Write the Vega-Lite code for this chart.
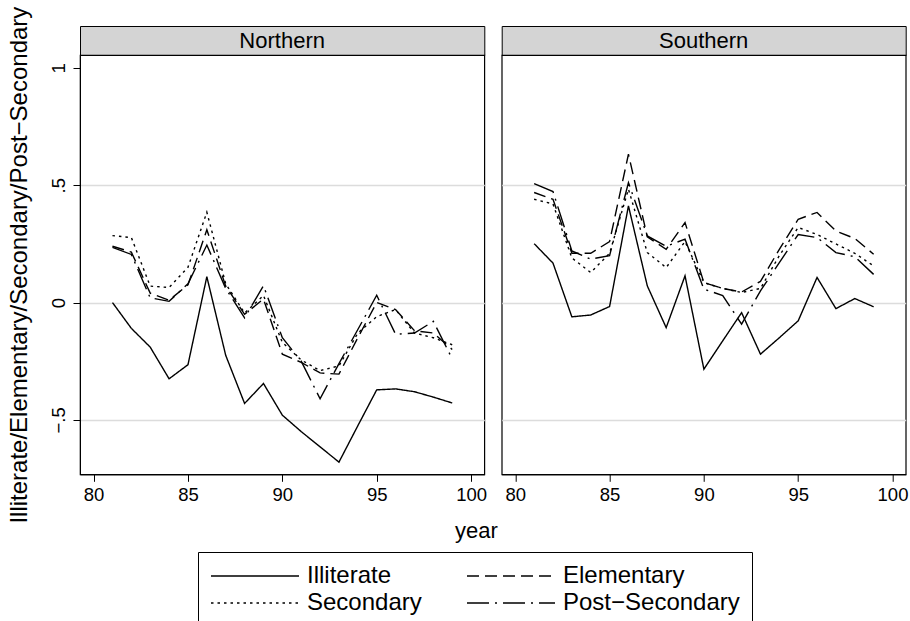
{
  "$schema": "https://vega.github.io/schema/vega-lite/v6.json",
  "padding": {"left": 7, "top": 5, "right": 0, "bottom": 0},
  "background": "white",
  "config": {
    "font": "Liberation Sans",
    "axis": {
      "domainColor": "black", "domainWidth": 1, "tickColor": "black", "tickWidth": 1,
      "labelColor": "black", "titleColor": "black",
      "labelFont": "Liberation Sans", "titleFont": "Liberation Sans",
      "labelFontSize": 18.5, "titleFontSize": 24, "titleFontWeight": "normal",
      "tickSize": 7, "gridColor": "#dcdcdc", "gridWidth": 1.5
    },
    "axisX": {"grid": false, "labelPadding": 4},
    "axisY": {
      "grid": true, "labelAngle": -90, "labelAlign": "center", "labelBaseline": "alphabetic",
      "labelPadding": 9,
      "gridOpacity": {"condition": {"test": "datum.value === 1", "value": 0}, "value": 1}
    },
    "legend": {
      "orient": "none", "legendX": 118, "legendY": 526, "columns": 2, "direction": "horizontal",
      "symbolType": "M-1,0H7", "symbolSize": 484, "symbolStrokeWidth": 1.5,
      "symbolStrokeColor": "black", "symbolFillColor": "transparent",
      "labelFont": "Liberation Sans", "labelFontSize": 24, "labelColor": "black",
      "labelOffset": 73, "columnPadding": 42, "rowPadding": 3, "padding": 12,
      "strokeColor": "black", "fillColor": "white", "labelLimit": 0, "titleLimit": 0
    }
  },
  "datasets": {
    "hn": [{"region": "Northern"}],
    "hs": [{"region": "Southern"}],
    "d": [
      {"region":"Northern","edu":"Illiterate","year":81,"value":0.0},
      {"region":"Northern","edu":"Illiterate","year":82,"value":-0.11},
      {"region":"Northern","edu":"Illiterate","year":83,"value":-0.19},
      {"region":"Northern","edu":"Illiterate","year":84,"value":-0.325},
      {"region":"Northern","edu":"Illiterate","year":85,"value":-0.265},
      {"region":"Northern","edu":"Illiterate","year":86,"value":0.11},
      {"region":"Northern","edu":"Illiterate","year":87,"value":-0.225},
      {"region":"Northern","edu":"Illiterate","year":88,"value":-0.43},
      {"region":"Northern","edu":"Illiterate","year":89,"value":-0.345},
      {"region":"Northern","edu":"Illiterate","year":90,"value":-0.48},
      {"region":"Northern","edu":"Illiterate","year":91,"value":-0.55},
      {"region":"Northern","edu":"Illiterate","year":92,"value":-0.615},
      {"region":"Northern","edu":"Illiterate","year":93,"value":-0.68},
      {"region":"Northern","edu":"Illiterate","year":94,"value":-0.525},
      {"region":"Northern","edu":"Illiterate","year":95,"value":-0.372},
      {"region":"Northern","edu":"Illiterate","year":96,"value":-0.368},
      {"region":"Northern","edu":"Illiterate","year":97,"value":-0.38},
      {"region":"Northern","edu":"Illiterate","year":98,"value":-0.403},
      {"region":"Northern","edu":"Illiterate","year":99,"value":-0.428},
      {"region":"Northern","edu":"Elementary","year":81,"value":0.24},
      {"region":"Northern","edu":"Elementary","year":82,"value":0.215},
      {"region":"Northern","edu":"Elementary","year":83,"value":0.04},
      {"region":"Northern","edu":"Elementary","year":84,"value":0.01},
      {"region":"Northern","edu":"Elementary","year":85,"value":0.075},
      {"region":"Northern","edu":"Elementary","year":86,"value":0.31},
      {"region":"Northern","edu":"Elementary","year":87,"value":0.07},
      {"region":"Northern","edu":"Elementary","year":88,"value":-0.05},
      {"region":"Northern","edu":"Elementary","year":89,"value":0.015},
      {"region":"Northern","edu":"Elementary","year":90,"value":-0.22},
      {"region":"Northern","edu":"Elementary","year":91,"value":-0.255},
      {"region":"Northern","edu":"Elementary","year":92,"value":-0.3},
      {"region":"Northern","edu":"Elementary","year":93,"value":-0.305},
      {"region":"Northern","edu":"Elementary","year":94,"value":-0.15},
      {"region":"Northern","edu":"Elementary","year":95,"value":0.0},
      {"region":"Northern","edu":"Elementary","year":96,"value":-0.03},
      {"region":"Northern","edu":"Elementary","year":97,"value":-0.12},
      {"region":"Northern","edu":"Elementary","year":98,"value":-0.13},
      {"region":"Northern","edu":"Elementary","year":99,"value":-0.2},
      {"region":"Northern","edu":"Secondary","year":81,"value":0.285},
      {"region":"Northern","edu":"Secondary","year":82,"value":0.277},
      {"region":"Northern","edu":"Secondary","year":83,"value":0.07},
      {"region":"Northern","edu":"Secondary","year":84,"value":0.064},
      {"region":"Northern","edu":"Secondary","year":85,"value":0.15},
      {"region":"Northern","edu":"Secondary","year":86,"value":0.385},
      {"region":"Northern","edu":"Secondary","year":87,"value":0.08},
      {"region":"Northern","edu":"Secondary","year":88,"value":-0.045},
      {"region":"Northern","edu":"Secondary","year":89,"value":0.03},
      {"region":"Northern","edu":"Secondary","year":90,"value":-0.17},
      {"region":"Northern","edu":"Secondary","year":91,"value":-0.245},
      {"region":"Northern","edu":"Secondary","year":92,"value":-0.29},
      {"region":"Northern","edu":"Secondary","year":93,"value":-0.27},
      {"region":"Northern","edu":"Secondary","year":94,"value":-0.13},
      {"region":"Northern","edu":"Secondary","year":95,"value":-0.06},
      {"region":"Northern","edu":"Secondary","year":96,"value":-0.03},
      {"region":"Northern","edu":"Secondary","year":97,"value":-0.13},
      {"region":"Northern","edu":"Secondary","year":98,"value":-0.15},
      {"region":"Northern","edu":"Secondary","year":99,"value":-0.18},
      {"region":"Northern","edu":"Post−Secondary","year":81,"value":0.235},
      {"region":"Northern","edu":"Post−Secondary","year":82,"value":0.205},
      {"region":"Northern","edu":"Post−Secondary","year":83,"value":0.02},
      {"region":"Northern","edu":"Post−Secondary","year":84,"value":0.005},
      {"region":"Northern","edu":"Post−Secondary","year":85,"value":0.08},
      {"region":"Northern","edu":"Post−Secondary","year":86,"value":0.245},
      {"region":"Northern","edu":"Post−Secondary","year":87,"value":0.06},
      {"region":"Northern","edu":"Post−Secondary","year":88,"value":-0.065},
      {"region":"Northern","edu":"Post−Secondary","year":89,"value":0.072},
      {"region":"Northern","edu":"Post−Secondary","year":90,"value":-0.15},
      {"region":"Northern","edu":"Post−Secondary","year":91,"value":-0.25},
      {"region":"Northern","edu":"Post−Secondary","year":92,"value":-0.41},
      {"region":"Northern","edu":"Post−Secondary","year":93,"value":-0.26},
      {"region":"Northern","edu":"Post−Secondary","year":94,"value":-0.115},
      {"region":"Northern","edu":"Post−Secondary","year":95,"value":0.031},
      {"region":"Northern","edu":"Post−Secondary","year":96,"value":-0.135},
      {"region":"Northern","edu":"Post−Secondary","year":97,"value":-0.13},
      {"region":"Northern","edu":"Post−Secondary","year":98,"value":-0.08},
      {"region":"Northern","edu":"Post−Secondary","year":99,"value":-0.24},
      {"region":"Southern","edu":"Illiterate","year":81,"value":0.251},
      {"region":"Southern","edu":"Illiterate","year":82,"value":0.168},
      {"region":"Southern","edu":"Illiterate","year":83,"value":-0.061},
      {"region":"Southern","edu":"Illiterate","year":84,"value":-0.053},
      {"region":"Southern","edu":"Illiterate","year":85,"value":-0.017},
      {"region":"Southern","edu":"Illiterate","year":86,"value":0.412},
      {"region":"Southern","edu":"Illiterate","year":87,"value":0.071},
      {"region":"Southern","edu":"Illiterate","year":88,"value":-0.107},
      {"region":"Southern","edu":"Illiterate","year":89,"value":0.114},
      {"region":"Southern","edu":"Illiterate","year":90,"value":-0.284},
      {"region":"Southern","edu":"Illiterate","year":91,"value":-0.163},
      {"region":"Southern","edu":"Illiterate","year":92,"value":-0.043},
      {"region":"Southern","edu":"Illiterate","year":93,"value":-0.22},
      {"region":"Southern","edu":"Illiterate","year":94,"value":-0.15},
      {"region":"Southern","edu":"Illiterate","year":95,"value":-0.078},
      {"region":"Southern","edu":"Illiterate","year":96,"value":0.107},
      {"region":"Southern","edu":"Illiterate","year":97,"value":-0.026},
      {"region":"Southern","edu":"Illiterate","year":98,"value":0.017},
      {"region":"Southern","edu":"Illiterate","year":99,"value":-0.018},
      {"region":"Southern","edu":"Elementary","year":81,"value":0.469},
      {"region":"Southern","edu":"Elementary","year":82,"value":0.44},
      {"region":"Southern","edu":"Elementary","year":83,"value":0.21},
      {"region":"Southern","edu":"Elementary","year":84,"value":0.21},
      {"region":"Southern","edu":"Elementary","year":85,"value":0.26},
      {"region":"Southern","edu":"Elementary","year":86,"value":0.632},
      {"region":"Southern","edu":"Elementary","year":87,"value":0.28},
      {"region":"Southern","edu":"Elementary","year":88,"value":0.227},
      {"region":"Southern","edu":"Elementary","year":89,"value":0.341},
      {"region":"Southern","edu":"Elementary","year":90,"value":0.085},
      {"region":"Southern","edu":"Elementary","year":91,"value":0.06},
      {"region":"Southern","edu":"Elementary","year":92,"value":0.045},
      {"region":"Southern","edu":"Elementary","year":93,"value":0.09},
      {"region":"Southern","edu":"Elementary","year":94,"value":0.227},
      {"region":"Southern","edu":"Elementary","year":95,"value":0.355},
      {"region":"Southern","edu":"Elementary","year":96,"value":0.384},
      {"region":"Southern","edu":"Elementary","year":97,"value":0.305},
      {"region":"Southern","edu":"Elementary","year":98,"value":0.273},
      {"region":"Southern","edu":"Elementary","year":99,"value":0.206},
      {"region":"Southern","edu":"Secondary","year":81,"value":0.44},
      {"region":"Southern","edu":"Secondary","year":82,"value":0.42},
      {"region":"Southern","edu":"Secondary","year":83,"value":0.19},
      {"region":"Southern","edu":"Secondary","year":84,"value":0.128},
      {"region":"Southern","edu":"Secondary","year":85,"value":0.21},
      {"region":"Southern","edu":"Secondary","year":86,"value":0.483},
      {"region":"Southern","edu":"Secondary","year":87,"value":0.213},
      {"region":"Southern","edu":"Secondary","year":88,"value":0.149},
      {"region":"Southern","edu":"Secondary","year":89,"value":0.26},
      {"region":"Southern","edu":"Secondary","year":90,"value":0.085},
      {"region":"Southern","edu":"Secondary","year":91,"value":0.06},
      {"region":"Southern","edu":"Secondary","year":92,"value":0.043},
      {"region":"Southern","edu":"Secondary","year":93,"value":0.06},
      {"region":"Southern","edu":"Secondary","year":94,"value":0.2},
      {"region":"Southern","edu":"Secondary","year":95,"value":0.32},
      {"region":"Southern","edu":"Secondary","year":96,"value":0.29},
      {"region":"Southern","edu":"Secondary","year":97,"value":0.25},
      {"region":"Southern","edu":"Secondary","year":98,"value":0.21},
      {"region":"Southern","edu":"Secondary","year":99,"value":0.156},
      {"region":"Southern","edu":"Post−Secondary","year":81,"value":0.507},
      {"region":"Southern","edu":"Post−Secondary","year":82,"value":0.473},
      {"region":"Southern","edu":"Post−Secondary","year":83,"value":0.22},
      {"region":"Southern","edu":"Post−Secondary","year":84,"value":0.185},
      {"region":"Southern","edu":"Post−Secondary","year":85,"value":0.2},
      {"region":"Southern","edu":"Post−Secondary","year":86,"value":0.511},
      {"region":"Southern","edu":"Post−Secondary","year":87,"value":0.284},
      {"region":"Southern","edu":"Post−Secondary","year":88,"value":0.24},
      {"region":"Southern","edu":"Post−Secondary","year":89,"value":0.27},
      {"region":"Southern","edu":"Post−Secondary","year":90,"value":0.057},
      {"region":"Southern","edu":"Post−Secondary","year":91,"value":0.03},
      {"region":"Southern","edu":"Post−Secondary","year":92,"value":-0.092},
      {"region":"Southern","edu":"Post−Secondary","year":93,"value":0.05},
      {"region":"Southern","edu":"Post−Secondary","year":94,"value":0.17},
      {"region":"Southern","edu":"Post−Secondary","year":95,"value":0.29},
      {"region":"Southern","edu":"Post−Secondary","year":96,"value":0.277},
      {"region":"Southern","edu":"Post−Secondary","year":97,"value":0.213},
      {"region":"Southern","edu":"Post−Secondary","year":98,"value":0.195},
      {"region":"Southern","edu":"Post−Secondary","year":99,"value":0.12}
    ]
  },
  "columns": 2,
  "spacing": {"row": 0, "column": 16.7},
  "bounds": "flush",
  "resolve": {"scale": {"strokeDash": "shared"}, "legend": {"strokeDash": "shared"}},
  "concat": [
    {
      "data": {"name": "hn"},
      "width": 404.3, "height": 29,
      "view": {"fill": "#d4d4d4", "stroke": "black", "strokeWidth": 1},
      "mark": {"type": "text", "font": "Liberation Sans", "fontSize": 22, "color": "black"},
      "encoding": {"text": {"field": "region", "type": "nominal"}}
    },
    {
      "data": {"name": "hs"},
      "width": 404, "height": 29,
      "view": {"fill": "#d4d4d4", "stroke": "black", "strokeWidth": 1},
      "mark": {"type": "text", "font": "Liberation Sans", "fontSize": 22, "color": "black"},
      "encoding": {"text": {"field": "region", "type": "nominal"}}
    },
    {
      "data": {"name": "d"},
      "transform": [{"filter": "datum.region === 'Northern'"}],
      "width": 404.3, "height": 419.3,
      "view": {"fill": "white", "stroke": "black", "strokeWidth": 1.2},
      "mark": {"type": "line", "color": "black", "strokeWidth": 1.4},
      "encoding": {
        "x": {"field": "year", "type": "quantitative",
              "scale": {"domain": [79.28, 100.7], "nice": false, "zero": false},
              "axis": {"values": [80, 85, 90, 95, 100], "title": null}},
        "y": {"field": "value", "type": "quantitative",
              "scale": {"domain": [-0.732, 1.055], "nice": false, "zero": false},
              "axis": {"values": [-0.5, 0, 0.5, 1],
                       "labelExpr": "datum.value === 1 ? '1' : datum.value === 0.5 ? '.5' : datum.value === 0 ? '0' : '−.5'",
                       "title": "Illiterate/Elementary/Secondary/Post−Secondary",
                       "titleX": -60.2, "titleBaseline": "middle", "titleAngle": -90}},
        "strokeDash": {"field": "edu", "type": "nominal",
                       "scale": {"domain": ["Illiterate", "Elementary", "Secondary", "Post−Secondary"],
                                 "range": [[1, 0], [12, 6], [2.5, 4], [22, 6, 2, 6]]},
                       "legend": {"title": null}}
      }
    },
    {
      "data": {"name": "d"},
      "transform": [{"filter": "datum.region === 'Southern'"}],
      "width": 404, "height": 419.3,
      "view": {"fill": "white", "stroke": "black", "strokeWidth": 1.2},
      "mark": {"type": "line", "color": "black", "strokeWidth": 1.4},
      "encoding": {
        "x": {"field": "year", "type": "quantitative",
              "scale": {"domain": [79.28, 100.7], "nice": false, "zero": false},
              "axis": {"values": [80, 85, 90, 95, 100], "title": "year", "titleFontSize": 22,
                       "titleX": -25.7, "titleY": 63, "titleAlign": "center", "titleBaseline": "alphabetic"}},
        "y": {"field": "value", "type": "quantitative",
              "scale": {"domain": [-0.732, 1.055], "nice": false, "zero": false},
              "axis": {"values": [-0.5, 0, 0.5, 1], "labels": false, "ticks": false, "domain": false, "title": null}},
        "strokeDash": {"field": "edu", "type": "nominal",
                       "scale": {"domain": ["Illiterate", "Elementary", "Secondary", "Post−Secondary"],
                                 "range": [[1, 0], [12, 6], [2.5, 4], [22, 6, 2, 6]]},
                       "legend": {"title": null}}
      }
    }
  ]
}
